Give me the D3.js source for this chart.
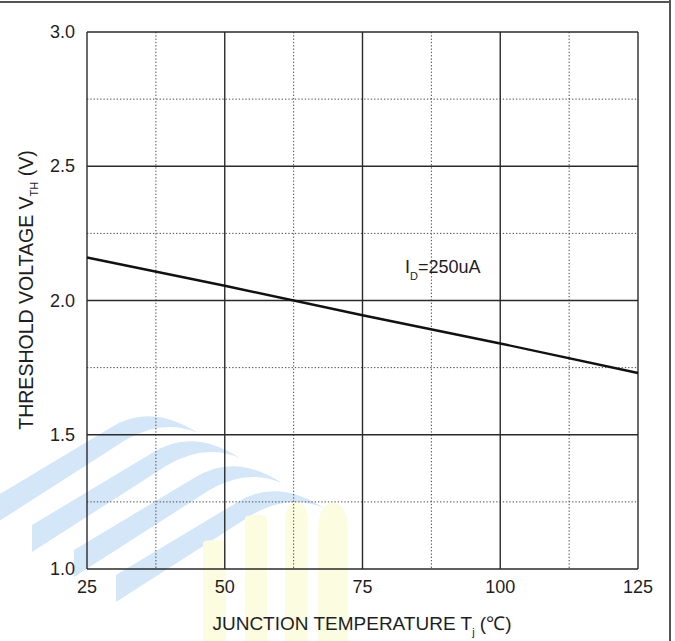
<!DOCTYPE html>
<html>
<head>
<meta charset="utf-8">
<script src="https://cdn.jsdelivr.net/npm/d3@7"></script>
<style>
  body { margin: 0; background: #fff; }
  text { font-family: "Liberation Sans", Arial, sans-serif; fill: #1e1e1e; }
</style>
</head>
<body>
<div id="chart"></div>
<script>
// data
var temps = [25, 50, 75, 100, 125];
var vth = [2.16, 2.055, 1.945, 1.84, 1.73];
var xTicks = [25, 50, 75, 100, 125];
var yTicks = [1.0, 1.5, 2.0, 2.5, 3.0];
var xMinor = [37.5, 62.5, 87.5, 112.5];
var yMinor = [1.25, 1.75, 2.25, 2.75];

var W = 675, H = 641;
var margin = {top: 32, right: 37, bottom: 72, left: 87},
    width = W - margin.left - margin.right,
    height = H - margin.top - margin.bottom;

var svg = d3.select("#chart")
  .append("svg")
    .attr("width", W)
    .attr("height", H);

// watermark (faint logo behind the chart)
var wm = svg.append("g");
[0, 1, 2, 3].forEach(function(k){
  wm.append("path")
    .attr("d", "M-10,500 L110,428 Q150,402 198,433 Q162,418 124,441 L-10,527 Z")
    .attr("transform", "translate(" + (42*k) + "," + (25*k) + ")")
    .style("fill", "#d3e7f9");
});
var bars = [[203, 540, 23, 0], [245, 515, 22, 0], [285, 502, 23, 1], [318, 503, 30, 1]];
bars.forEach(function(b){
  var x0 = b[0], y0 = b[1], w = b[2];
  var r = b[3] ? w : 3;
  wm.append("path")
    .attr("d", "M" + x0 + "," + H + " L" + x0 + "," + (y0 + r) +
      " Q" + x0 + "," + y0 + " " + (x0 + w/2) + "," + y0 +
      " Q" + (x0 + w) + "," + y0 + " " + (x0 + w) + "," + (y0 + r) +
      " L" + (x0 + w) + "," + H + " Z")
    .style("fill", "#fcfce0");
});

// page frame
svg.append("line").attr("x1", 0).attr("x2", 671).attr("y1", 2).attr("y2", 2)
  .style("stroke", "#555").style("stroke-width", 2);
svg.append("line").attr("x1", 670).attr("x2", 670).attr("y1", 0).attr("y2", H)
  .style("stroke", "#555").style("stroke-width", 2);

var g = svg.append("g")
  .attr("transform", "translate(" + margin.left + "," + margin.top + ")");

var x = d3.scaleLinear().domain([25, 125]).range([0, width]);
var y = d3.scaleLinear().domain([1.0, 3.0]).range([height, 0]);

// minor dotted grid
g.selectAll(".vminor").data(xMinor).enter().append("line")
  .attr("x1", function(d){ return x(d); }).attr("x2", function(d){ return x(d); })
  .attr("y1", 0).attr("y2", height)
  .style("stroke", "#444").style("stroke-width", 1).style("stroke-dasharray", "1.3,2");
g.selectAll(".hminor").data(yMinor).enter().append("line")
  .attr("y1", function(d){ return y(d); }).attr("y2", function(d){ return y(d); })
  .attr("x1", 0).attr("x2", width)
  .style("stroke", "#444").style("stroke-width", 1).style("stroke-dasharray", "1.3,2");

// major solid grid
g.selectAll(".vmajor").data(xTicks).enter().append("line")
  .attr("x1", function(d){ return x(d); }).attr("x2", function(d){ return x(d); })
  .attr("y1", 0).attr("y2", height)
  .style("stroke", "#2a2a2a").style("stroke-width", 1.4);
g.selectAll(".hmajor").data(yTicks).enter().append("line")
  .attr("y1", function(d){ return y(d); }).attr("y2", function(d){ return y(d); })
  .attr("x1", 0).attr("x2", width)
  .style("stroke", "#2a2a2a").style("stroke-width", 1.4);

// tick labels
g.selectAll(".ylab").data(yTicks).enter().append("text")
  .attr("x", -12).attr("y", function(d){ return y(d) + 6; })
  .attr("text-anchor", "end")
  .style("font-size", "18px")
  .text(function(d){ return d.toFixed(1); });
g.selectAll(".xlab").data(xTicks).enter().append("text")
  .attr("x", function(d){ return x(d); }).attr("y", height + 24)
  .attr("text-anchor", "middle")
  .style("font-size", "18px")
  .text(function(d){ return d; });

// curve
var line = d3.line()
  .x(function(d, i){ return x(temps[i]); })
  .y(function(d){ return y(d); });
g.append("path")
  .datum(vth)
  .attr("d", line)
  .style("fill", "none")
  .style("stroke", "#111")
  .style("stroke-width", 2.4);

// annotation
var ann = g.append("text")
  .attr("x", x(82.7)).attr("y", y(2.101))
  .style("font-size", "18px");
ann.append("tspan").text("I");
ann.append("tspan").attr("dy", 7).style("font-size", "11px").text("D");
ann.append("tspan").attr("dy", -7).text("=250uA");

// axis titles
var xt = svg.append("text")
  .attr("x", 362).attr("y", 630)
  .attr("text-anchor", "middle")
  .style("font-size", "19px");
xt.append("tspan").text("JUNCTION TEMPERATURE T");
xt.append("tspan").attr("dy", 6).style("font-size", "11px").text("j");
xt.append("tspan").attr("dy", -6).text(" (\u2103)");

var yt = svg.append("text")
  .attr("transform", "translate(33,290) rotate(-90)")
  .attr("text-anchor", "middle")
  .style("font-size", "19.5px");
yt.append("tspan").text("THRESHOLD VOLTAGE V");
yt.append("tspan").attr("dy", 5).style("font-size", "11px").text("TH");
yt.append("tspan").attr("dy", -5).text(" (V)");
</script>
</body>
</html>
